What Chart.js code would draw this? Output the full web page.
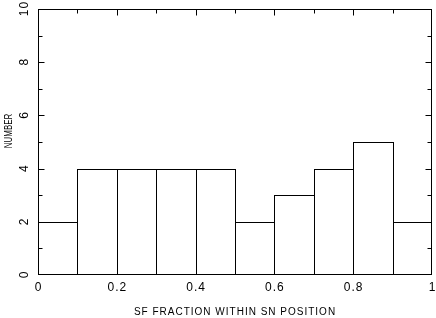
<!DOCTYPE html>
<html>
<head>
<meta charset="utf-8">
<script src="https://cdn.jsdelivr.net/npm/chart.js@4/dist/chart.umd.min.js"></script>
<style>
html, body { margin: 0; padding: 0; background: #fff; }
#wrap { width: 436px; height: 318px; }
</style>
</head>
<body>
<div id="wrap"><canvas id="myChart"></canvas></div>
<script>
// histogram: bin centres and counts
const binCenters = [0.05, 0.15, 0.25, 0.35, 0.45, 0.55, 0.65, 0.75, 0.85, 0.95];
const counts = [2, 4, 4, 4, 4, 2, 3, 4, 5, 2];

// axis tick labels
const xTickValues = [0, 0.2, 0.4, 0.6, 0.8, 1];
const xTickLabels = ['0', '0.2', '0.4', '0.6', '0.8', '1'];
const yTickValues = [0, 2, 4, 6, 8, 10];
const yTickLabels = ['0', '2', '4', '6', '8', '10'];
const xMinorTicks = [0, 0.1, 0.2, 0.3, 0.4, 0.5, 0.6, 0.7, 0.8, 0.9, 1];
const yMinorTicks = [0, 1, 2, 3, 4, 5, 6, 7, 8, 9, 10];

const xTitle = 'SF FRACTION WITHIN SN POSITION';
const yTitle = 'NUMBER';

const FONT = '"Liberation Sans", Arial, Helvetica, sans-serif';

// frame, inward ticks, bar outlines and all the text
const framePlugin = {
    id: 'framePlugin',
    afterDatasetsDraw(chart) {
        const ctx = chart.ctx;
        const xs = chart.scales.x;
        const ys = chart.scales.y;
        const a = chart.chartArea;
        const L = Math.round(a.left) + 0.5;
        const R = Math.round(a.right) - 0.5;
        const T = Math.round(a.top) + 0.5;
        const B = Math.round(a.bottom) - 0.5;
        const px = (v, lo, hi) => Math.min(hi, Math.max(lo, Math.round(v) + 0.5));

        ctx.save();
        ctx.strokeStyle = '#000';
        ctx.lineWidth = 1;

        // bars as open boxes, shared edges land on the same pixel
        const meta = chart.getDatasetMeta(0);
        meta.data.forEach(bar => {
            const l = px(bar.x - bar.width / 2, L, R);
            const r = px(bar.x + bar.width / 2, L, R);
            const t = px(bar.y, T, B);
            const b = px(bar.base, T, B);
            ctx.strokeRect(l, t, r - l, b - t);
        });

        // frame
        ctx.strokeRect(L, T, R - L, B - T);

        // ticks pointing inwards, long on labelled values
        ctx.beginPath();
        xMinorTicks.forEach(v => {
            const x = px(xs.getPixelForValue(v), L, R);
            const len = xTickValues.includes(v) ? 6 : 4;
            ctx.moveTo(x, B); ctx.lineTo(x, B - len);
            ctx.moveTo(x, T); ctx.lineTo(x, T + len);
        });
        yMinorTicks.forEach(v => {
            const y = px(ys.getPixelForValue(v), T, B);
            const len = yTickValues.includes(v) ? 6 : 4;
            ctx.moveTo(L, y); ctx.lineTo(L + len, y);
            ctx.moveTo(R, y); ctx.lineTo(R - len, y);
        });
        ctx.stroke();

        ctx.fillStyle = '#000';
        ctx.textBaseline = 'middle';
        ctx.textAlign = 'center';

        // x tick labels
        ctx.font = '12px ' + FONT;
        ctx.letterSpacing = '1px';
        xTickValues.forEach((v, i) => {
            ctx.fillText(xTickLabels[i], xs.getPixelForValue(v) + 0.5, 288);
        });

        // y tick labels, rotated
        yTickValues.forEach((v, i) => {
            ctx.save();
            ctx.translate(25, ys.getPixelForValue(v));
            ctx.rotate(-Math.PI / 2);
            ctx.fillText(yTickLabels[i], 0.5, 0);
            ctx.restore();
        });

        // axis titles
        ctx.font = '10px ' + FONT;
        ctx.letterSpacing = '1px';
        ctx.fillText(xTitle, (a.left + a.right) / 2, 312);

        ctx.save();
        ctx.translate(8.5, 131);
        ctx.rotate(-Math.PI / 2);
        ctx.scale(0.72, 1);
        ctx.font = '11px ' + FONT;
        ctx.letterSpacing = '0px';
        ctx.fillText(yTitle, 0, 0);
        ctx.restore();

        ctx.restore();
    }
};

const ctx = document.getElementById('myChart').getContext('2d');
new Chart(ctx, {
    type: 'bar',
    data: {
        labels: binCenters,
        datasets: [{
            label: 'NUMBER',
            data: binCenters.map((x, i) => ({ x: x, y: counts[i] })),
            backgroundColor: 'rgba(0,0,0,0)',
            borderWidth: 0,
            barPercentage: 1,
            categoryPercentage: 1
        }]
    },
    options: {
        responsive: true,
        maintainAspectRatio: false,
        animation: false,
        devicePixelRatio: 1,
        layout: { padding: { left: 38, right: 4, top: 9, bottom: 43 } },
        plugins: {
            legend: { display: false },
            tooltip: { enabled: false }
        },
        scales: {
            x: { type: 'linear', min: 0, max: 1, display: false, offset: false },
            y: { type: 'linear', min: 0, max: 10, display: false }
        }
    },
    plugins: [framePlugin]
});
</script>
</body>
</html>
